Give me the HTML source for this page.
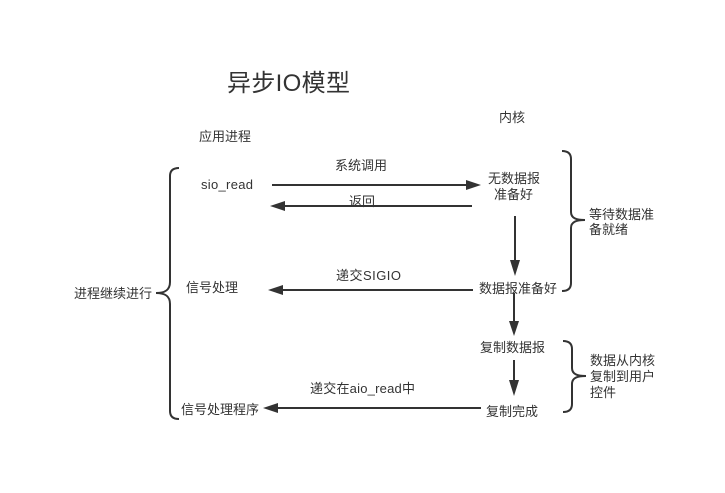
<!DOCTYPE html>
<html>
<head>
<meta charset="utf-8">
<style>
html,body{margin:0;padding:0;background:#fff;}
svg{display:block;}
text{font-family:"Liberation Sans","Noto Sans CJK SC",sans-serif;font-size:13px;fill:#333;}
.l{stroke:#333;stroke-width:2;fill:none;}
.a{fill:#333;stroke:none;}
</style>
</head>
<body>
<svg width="725" height="493" viewBox="0 0 725 493" xmlns="http://www.w3.org/2000/svg">
<rect width="725" height="493" fill="#fff"/>
<text x="227" y="91" textLength="123" lengthAdjust="spacing" style="font-size:24px">异步IO模型</text>
<text x="199" y="141">应用进程</text>
<text x="499" y="122">内核</text>
<text x="335" y="170">系统调用</text>
<text x="201" y="189" textLength="52" lengthAdjust="spacing">sio_read</text>
<text x="349" y="206">返回</text>
<text x="488" y="183">无数据报</text>
<text x="494" y="199">准备好</text>
<text x="479" y="293">数据报准备好</text>
<text x="336" y="280" textLength="65" lengthAdjust="spacing">递交SIGIO</text>
<text x="186" y="292">信号处理</text>
<text x="480" y="352">复制数据报</text>
<text x="486" y="416">复制完成</text>
<text x="310" y="393" textLength="105" lengthAdjust="spacing">递交在aio_read中</text>
<text x="181" y="414">信号处理程序</text>
<text x="74" y="298">进程继续进行</text>
<text x="589" y="219">等待数据准</text>
<text x="589" y="234">备就绪</text>
<text x="590" y="365">数据从内核</text>
<text x="590" y="381">复制到用户</text>
<text x="590" y="397">控件</text>

<path class="l" d="M272 185H467"/><path class="a" d="M481 185L466 180V190Z"/>
<path class="l" d="M472 206H284"/><path class="a" d="M270 206L285 201V211Z"/>
<path class="l" d="M515 216V261"/><path class="a" d="M515 276L510 260H520Z"/>
<path class="l" d="M473 290H282"/><path class="a" d="M268 290L283 285V295Z"/>
<path class="l" d="M514 293V322"/><path class="a" d="M514 336L509 321H519Z"/>
<path class="l" d="M514 360V381"/><path class="a" d="M514 396L509 380H519Z"/>
<path class="l" d="M481 408H277"/><path class="a" d="M263 408L278 403V413Z"/>

<path class="l" d="M179 168C174 168 170 170 170 176V282C170 290 165 293 156 293C165 293 170 296 170 304V411C170 417 174 419 179 419"/>
<path class="l" d="M562 151C567 151 571 153 571 159V212C571 218 576 220 585 220C576 220 571 222 571 228V283C571 289 567 291 562 291"/>
<path class="l" d="M563 341C568 341 572 343 572 349V368C572 374 577 376 586 376C577 376 572 378 572 384V404C572 410 568 412 563 412"/>
</svg>
</body>
</html>
